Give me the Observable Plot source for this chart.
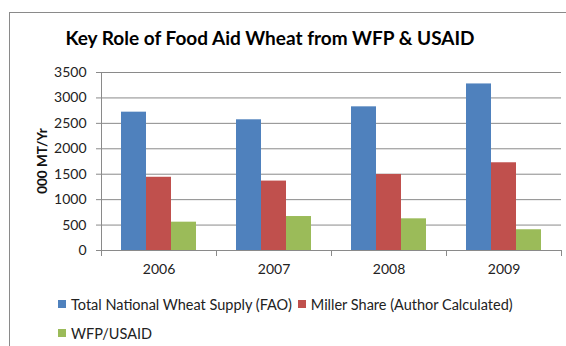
<!DOCTYPE html>
<html>
<head>
<meta charset="utf-8">
<script src="https://cdn.jsdelivr.net/npm/d3@7"></script>
<script src="https://cdn.jsdelivr.net/npm/@observablehq/plot@0.6"></script>
<style>
  html, body { margin: 0; padding: 0; background: #fff; }
  body { width: 566px; height: 346px; overflow: hidden; position: relative; font-family: Lato, "Noto Sans", sans-serif; }
  #border { position: absolute; left: 9px; top: 12px; width: 620px; height: 400px; border: 1px solid #8a8a8a; box-sizing: border-box; }
  #title { position: absolute; left: 0; width: 540px; top: 28px; text-align: center; font-weight: bold; font-size: 19px; line-height: 19px; color: #000; }
  #chart { position: absolute; left: 0; top: 0; }
  #ylabel { position: absolute; left: 42px; top: 161px; transform: translate(-50%, -50%) rotate(-90deg); font-weight: bold; font-size: 13.5px; white-space: nowrap; color: #111; }
  .lrow { position: absolute; left: 58px; display: flex; align-items: center; height: 18px; font-size: 14.5px; color: #222; white-space: nowrap; }
  .sw { width: 8px; height: 8px; margin-right: 5px; flex: none; }
  .item { display: flex; align-items: center; margin-right: 6px; }
</style>
</head>
<body>
<div id="border"></div>
<div id="chart"></div>
<div id="title"></div>
<div id="ylabel"></div>
<div id="legend"></div>
<script>
const titleText = "Key Role of Food Aid Wheat from WFP & USAID";
const yLabelText = "000 MT/Yr";
const years = ["2006", "2007", "2008", "2009"];
const seriesNames = ["Total National Wheat Supply (FAO)", "Miller Share (Author Calculated)", "WFP/USAID"];
const totalSupply = [2720, 2570, 2825, 3275];
const millerShare = [1440, 1365, 1495, 1725];
const wfpUsaid = [557, 668, 623, 408];
const seriesColors = ["#4F81BD", "#C0504D", "#9BBB59"];
const yTicks = [0, 500, 1000, 1500, 2000, 2500, 3000, 3500];
const legendRows = [[0, 1], [2]];

const seriesValues = [totalSupply, millerShare, wfpUsaid];
const data = years.flatMap((year, i) =>
  seriesNames.map((series, s) => ({ year, series, value: seriesValues[s][i] }))
);

const gridColor = "#8a8a8a";

const chart = Plot.plot({
  width: 566,
  height: 290,
  marginLeft: 101,
  marginRight: 5,
  marginTop: 72,
  marginBottom: 40,
  style: { fontFamily: "Lato, 'Noto Sans', sans-serif", fontSize: "14px", color: "#222", background: "transparent", overflow: "visible" },
  fx: { domain: years, padding: 0, label: null },
  x: { domain: seriesNames, paddingInner: 0, paddingOuter: 0.75, axis: null },
  y: { domain: [0, 3500], label: null },
  color: { domain: seriesNames, range: seriesColors },
  marks: [
    Plot.gridY(yTicks, { stroke: gridColor, strokeOpacity: 1 }),
    Plot.barY(data, { fx: "year", x: "series", y: "value", fill: "series" }),
    Plot.ruleY([0], { stroke: gridColor }),
    Plot.axisY(yTicks, { tickSize: 5, tickPadding: 10, stroke: gridColor, fill: "#222", label: null, tickFormat: d => String(d) }),
    Plot.axisFx({ anchor: "bottom", tickSize: 0, tickPadding: 14, label: null, fill: "#222" }),
    Plot.frame({ anchor: "left", facetAnchor: "left", stroke: gridColor }),
    Plot.frame({ anchor: "left", insetTop: 178, insetBottom: -5, stroke: gridColor }),
    Plot.frame({ anchor: "right", facetAnchor: "right", insetTop: 178, insetBottom: -5, stroke: gridColor })
  ]
});
document.getElementById("chart").appendChild(chart);
document.getElementById("title").textContent = titleText;
document.getElementById("ylabel").textContent = yLabelText;

const legend = document.getElementById("legend");
const rowTops = [295, 324];
legendRows.forEach((row, r) => {
  const rowDiv = document.createElement("div");
  rowDiv.className = "lrow";
  rowDiv.style.top = rowTops[r] + "px";
  row.forEach(s => {
    const item = document.createElement("div");
    item.className = "item";
    const sw = document.createElement("span");
    sw.className = "sw";
    sw.style.background = seriesColors[s];
    const label = document.createElement("span");
    label.textContent = seriesNames[s];
    item.appendChild(sw);
    item.appendChild(label);
    rowDiv.appendChild(item);
  });
  legend.appendChild(rowDiv);
});
</script>
</body>
</html>
